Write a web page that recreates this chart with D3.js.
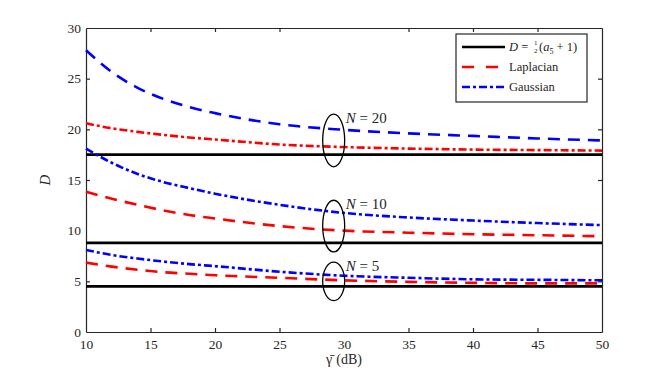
<!DOCTYPE html>
<html>
<head>
<meta charset="utf-8">
<script src="https://d3js.org/d3.v7.min.js"></script>
<style>
  body { margin: 0; background: #fff; }
  text { font-family: "Liberation Serif", "Times New Roman", "DejaVu Serif", serif; fill: #262626; }
</style>
</head>
<body>
<div id="wrapper"></div>
<script>
// data
var snr = [10, 12, 14, 16, 18, 20, 25, 30, 35, 40, 45, 50];
var gauss20 = [27.8, 25.65, 24.1, 23.0, 22.2, 21.6, 20.5, 19.95, 19.6, 19.35, 19.1, 18.9];
var lap20   = [20.6, 20.1, 19.75, 19.45, 19.2, 19.0, 18.5, 18.25, 18.1, 18.0, 17.95, 17.9];
var gauss10 = [18.1, 16.7, 15.6, 14.8, 14.2, 13.65, 12.55, 11.75, 11.3, 11.0, 10.75, 10.55];
var lap10   = [13.85, 13.15, 12.55, 12.0, 11.55, 11.2, 10.45, 10.0, 9.8, 9.65, 9.55, 9.45];
var gauss5  = [8.1, 7.6, 7.25, 6.95, 6.7, 6.5, 5.95, 5.55, 5.35, 5.2, 5.15, 5.1];
var lap5    = [6.85, 6.45, 6.15, 5.9, 5.75, 5.6, 5.35, 5.1, 4.95, 4.85, 4.8, 4.8];
var bound = [17.5, 8.8, 4.5];          // D = (a_N + 1)/2 for N = 20, 10, 5
var groupN = [20, 10, 5];
var ellipseX = 29.2;
var ellipseY = [18.9, 10.45, 5.0];
var ellipseRy = [2.6, 2.55, 1.9];
var xTicks = [10, 15, 20, 25, 30, 35, 40, 45, 50];
var yTicks = [0, 5, 10, 15, 20, 25, 30];

var W = 664, H = 373;
var padL = 86, padR = 602, padT = 28, padB = 332;
var serif = "'Liberation Serif', 'Times New Roman', serif";

var svg = d3.select("#wrapper").append("svg")
  .attr("width", W).attr("height", H);

var x = d3.scaleLinear().domain([10, 50]).range([padL, padR]);
var y = d3.scaleLinear().domain([0, 30]).range([padB, padT]);

// axes, ticks inward on all sides
var axisCol = "#262626";
svg.append("g").attr("transform", "translate(0," + padB + ")")
  .call(d3.axisBottom(x).tickValues(xTicks).tickSizeInner(-4).tickSizeOuter(0).tickPadding(7));
svg.append("g").attr("transform", "translate(0," + padT + ")")
  .call(d3.axisTop(x).tickValues(xTicks).tickSizeInner(-4).tickSizeOuter(0).tickFormat(""));
svg.append("g").attr("transform", "translate(" + padL + ",0)")
  .call(d3.axisLeft(y).tickValues(yTicks).tickSizeInner(-4).tickSizeOuter(0).tickPadding(5));
svg.append("g").attr("transform", "translate(" + padR + ",0)")
  .call(d3.axisRight(y).tickValues(yTicks).tickSizeInner(-4).tickSizeOuter(0).tickFormat(""));
svg.selectAll("g").attr("font-family", serif);
svg.selectAll(".domain").attr("stroke", axisCol).attr("stroke-width", 1.2);
svg.selectAll(".tick line").attr("stroke", axisCol).attr("stroke-width", 1.2);
svg.selectAll(".tick text").style("font-family", serif).style("font-size", "13.5px").attr("fill", axisCol);
svg.selectAll(".tick line").filter(function(d) { return d == 10 || d == 50 || d == 0 || d == 30; })
  .attr("stroke", "none");

// bounds
var dashed = "12,8";
var dashdot = "8,3,3,3";
bound.forEach(function(b) {
  svg.append("line")
    .attr("x1", x(10)).attr("x2", x(50))
    .attr("y1", y(b)).attr("y2", y(b))
    .attr("stroke", "#000").attr("stroke-width", 2.6);
});

var line = d3.line()
  .x(function(d, i) { return x(snr[i]); })
  .y(function(d) { return y(d); })
  .curve(d3.curveMonotoneX);

var series = [
  { v: gauss20, c: "#0000ff", dash: dashed },
  { v: lap20,   c: "#ff0000", dash: dashdot },
  { v: gauss10, c: "#0000ff", dash: dashdot },
  { v: lap10,   c: "#ff0000", dash: dashed },
  { v: gauss5,  c: "#0000ff", dash: dashdot },
  { v: lap5,    c: "#ff0000", dash: dashed }
];
series.forEach(function(s) {
  svg.append("path").attr("d", line(s.v))
    .attr("fill", "none").attr("stroke", s.c)
    .attr("stroke-width", 2.6).attr("stroke-dasharray", s.dash);
});

// ellipses and N labels
groupN.forEach(function(n, i) {
  svg.append("ellipse")
    .attr("cx", x(ellipseX)).attr("cy", y(ellipseY[i]))
    .attr("rx", 11).attr("ry", y(0) - y(ellipseRy[i]))
    .attr("fill", "none").attr("stroke", "#000").attr("stroke-width", 1.3);
  var t = svg.append("text")
    .attr("x", x(ellipseX) + 12)
    .attr("y", y(ellipseY[i] + ellipseRy[i]) + 9)
    .style("font-size", "15px").attr("fill", "#000");
  t.append("tspan").style("font-style", "italic").text("N");
  t.append("tspan").text(" = " + n);
});

// axis titles
svg.append("text")
  .attr("transform", "translate(50," + y(15) + ") rotate(-90)")
  .style("text-anchor", "middle").style("font-size", "15px").style("font-style", "italic")
  .attr("fill", "#000").text("D");
var xt = svg.append("text")
  .attr("x", x(30)).attr("y", 364)
  .style("text-anchor", "middle").style("font-size", "14px").attr("fill", "#000");
xt.append("tspan").text("\u03b3\u0304");
xt.append("tspan").attr("dx", 4).text("(dB)");

// legend
var lg = svg.append("g");
lg.append("rect").attr("x", 456).attr("y", 34).attr("width", 131).attr("height", 68)
  .attr("fill", "#fff").attr("stroke", axisCol).attr("stroke-width", 1.2);
var rows = [
  { y: 47, c: "#000", dash: null },
  { y: 67, c: "#ff0000", dash: "12,12" },
  { y: 87, c: "#0000ff", dash: "8,3,3,3" }
];
rows.forEach(function(r) {
  lg.append("line").attr("x1", 462).attr("x2", 505).attr("y1", r.y).attr("y2", r.y)
    .attr("stroke", r.c).attr("stroke-width", 2.6)
    .attr("stroke-dasharray", r.dash);
});
var lt = lg.append("text").attr("x", 509).attr("y", 51).style("font-size", "12.5px").attr("fill", "#000");
lt.append("tspan").style("font-style", "italic").text("D");
lt.append("tspan").text(" = ");
lg.append("text").attr("x", 534).attr("y", 45).style("font-size", "7px").attr("fill", "#000").text("1");
lg.append("text").attr("x", 534).attr("y", 53).style("font-size", "7px").attr("fill", "#000").text("2");
var lt2 = lg.append("text").attr("x", 539).attr("y", 51).style("font-size", "12.5px").attr("fill", "#000");
lt2.append("tspan").text("(");
lt2.append("tspan").style("font-style", "italic").text("a");
lt2.append("tspan").attr("dy", 3).style("font-size", "8px").text("5");
lt2.append("tspan").attr("dy", -3).text(" + 1)");
lg.append("text").attr("x", 509).attr("y", 71).style("font-size", "12.5px").attr("fill", "#000").text("Laplacian");
lg.append("text").attr("x", 509).attr("y", 91).style("font-size", "12.5px").attr("fill", "#000").text("Gaussian");
</script>
</body>
</html>
